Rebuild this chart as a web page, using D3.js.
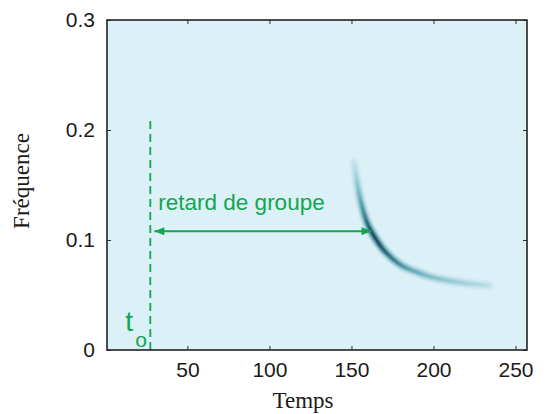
<!DOCTYPE html>
<html lang="fr">
<head>
<meta charset="utf-8">
<title>Retard de groupe</title>
<script src="https://cdn.jsdelivr.net/npm/d3@7"></script>
<style>
  body { margin: 0; background: #fff; }
  .tick text { font-family: "Liberation Sans", Arial, sans-serif; font-size: 21px; fill: #1a1a1a; }
  .title { font-family: "Liberation Serif", "Times New Roman", serif; font-size: 23px; fill: #1a1a1a; }
  .note { font-family: "Liberation Sans", Arial, sans-serif; fill: #12a650; }
</style>
</head>
<body>
<script>
// ridge of the spectrogram (time-frequency energy of the dispersed wave)
var ridgeFreq   = [0.171, 0.160, 0.1485, 0.136, 0.124, 0.115, 0.108, 0.101, 0.094, 0.088, 0.0788, 0.0745, 0.071, 0.067, 0.0636, 0.0606, 0.0585];
var ridgeTime   = [151.4, 152.5, 153.8, 155.5, 157.6, 159.7, 162.0, 164.8, 168.0, 171.5, 178.5, 183.5, 189.5, 197, 207, 219.6, 234.3];
var ridgeEnergy = [0.14, 0.26, 0.4, 0.55, 0.7, 0.85, 0.97, 1.0, 0.95, 0.85, 0.7, 0.6, 0.52, 0.45, 0.38, 0.3, 0.18];

var xTicks = [50, 100, 150, 200, 250];
var yTicks = [0, 0.1, 0.2, 0.3];

var t0 = 27.4;          // start time
var t0Top = 0.21;
var arrowFreq = 0.108;
var arrowEnd = 162.2;   // group delay arrival

var W = 545, H = 414;
var margin = {top: 20, right: 18, bottom: 64, left: 107};
var width = W - margin.left - margin.right,
    height = H - margin.top - margin.bottom;

var svg = d3.select("body").append("svg")
    .attr("width", W)
    .attr("height", H);

var x = d3.scaleLinear().domain([1, 257]).range([0, width]);
var y = d3.scaleLinear().domain([0, 0.3]).range([height, 0]);

var defs = svg.append("defs");
defs.append("filter").attr("id", "soft")
    .attr("x", "-20%").attr("y", "-20%").attr("width", "140%").attr("height", "140%")
  .append("feGaussianBlur").attr("stdDeviation", 0.8);
var mk = function(id, orient) {
  defs.append("marker").attr("id", id)
      .attr("viewBox", "0 0 10 8").attr("refX", 10).attr("refY", 4)
      .attr("markerWidth", 11).attr("markerHeight", 8)
      .attr("markerUnits", "userSpaceOnUse")
      .attr("orient", orient)
    .append("path").attr("d", "M0,0L10,4L0,8Z").attr("fill", "#12a650");
};
mk("head", "auto");
mk("tail", "auto-start-reverse");

var g = svg.append("g")
    .attr("transform", "translate(" + margin.left + "," + margin.top + ")");

// background of the image
g.append("rect")
    .attr("width", width).attr("height", height)
    .attr("fill", "#dcf0f7");

// spectrogram ridge
var color = d3.scaleLinear()
    .domain([0, 0.3, 0.65, 1])
    .range(["#dcf0f7", "#9dcfd9", "#2b8393", "#0b1d44"]);
var pts = ridgeTime.map(function(t, i) {
  return {t: t, f: ridgeFreq[i], e: ridgeEnergy[i], px: x(t), py: y(ridgeFreq[i])};
});
var p0 = pts[0], p1 = pts[pts.length - 1];
var vx = p1.px - p0.px, vy = p1.py - p0.py, vv = vx * vx + vy * vy;
pts.forEach(function(p) { p.off = ((p.px - p0.px) * vx + (p.py - p0.py) * vy) / vv; });

var layers = [
  {id: "gHalo", k: 0.35, w: 9},
  {id: "gMid",  k: 0.7,  w: 5},
  {id: "gCore", k: 1.0,  w: 2.2}
];
layers.forEach(function(L) {
  var lg = defs.append("linearGradient").attr("id", L.id)
      .attr("gradientUnits", "userSpaceOnUse")
      .attr("x1", p0.px).attr("y1", p0.py).attr("x2", p1.px).attr("y2", p1.py);
  lg.selectAll("stop").data(pts).enter().append("stop")
      .attr("offset", function(d) { return Math.max(0, Math.min(1, d.off)); })
      .attr("stop-color", function(d) { return color(d.e * L.k); });
});

var ridgeLine = d3.line()
    .x(function(d) { return d.px; })
    .y(function(d) { return d.py; })
    .curve(d3.curveCatmullRom);
var ridge = g.append("g").attr("filter", "url(#soft)");
ridge.selectAll("path").data(layers).enter().append("path")
    .attr("d", ridgeLine(pts))
    .attr("fill", "none")
    .attr("stroke", function(L) { return "url(#" + L.id + ")"; })
    .attr("stroke-width", function(L) { return L.w; })
    .attr("stroke-linecap", "round");

// t0 dashed line
g.append("line")
    .attr("x1", x(t0)).attr("x2", x(t0))
    .attr("y1", y(0)).attr("y2", y(t0Top))
    .attr("stroke", "#12a650").attr("stroke-width", 1.8)
    .attr("stroke-dasharray", "8,5");

// group delay arrow
g.append("line")
    .attr("x1", x(t0) + 4).attr("x2", x(arrowEnd))
    .attr("y1", y(arrowFreq)).attr("y2", y(arrowFreq))
    .attr("stroke", "#12a650").attr("stroke-width", 2)
    .attr("marker-start", "url(#tail)")
    .attr("marker-end", "url(#head)");

g.append("text").attr("class", "note")
    .attr("x", x(t0) + 8).attr("y", y(arrowFreq) - 21)
    .style("font-size", "22.5px")
    .text("retard de groupe");

g.append("text").attr("class", "note")
    .attr("x", x(t0) - 25).attr("y", y(0) - 19)
    .style("font-size", "28px")
    .text("t");
g.append("text").attr("class", "note")
    .attr("x", x(t0) - 15).attr("y", y(0) - 3)
    .style("font-size", "21px")
    .text("o");

// axes, ticks inward on all four sides
var axisStyle = function(sel) {
  sel.select(".domain").remove();
  sel.selectAll(".tick line").attr("stroke", "#333").attr("stroke-width", 1);
};
g.append("g")
    .attr("transform", "translate(0," + height + ")")
    .call(d3.axisBottom(x).tickValues(xTicks).tickSize(-4).tickPadding(12).tickFormat(d3.format("d")))
    .call(axisStyle);
g.append("g")
    .call(d3.axisTop(x).tickValues(xTicks).tickSize(-4).tickFormat(""))
    .call(axisStyle);
g.append("g")
    .call(d3.axisLeft(y).tickValues(yTicks).tickSize(-4).tickPadding(12)
      .tickFormat(function(d) { return d === 0 ? "0" : d3.format(".1f")(d); }))
    .call(axisStyle);
g.append("g")
    .attr("transform", "translate(" + width + ",0)")
    .call(d3.axisRight(y).tickValues(yTicks).tickSize(-4).tickFormat(""))
    .call(axisStyle);

g.append("rect")
    .attr("width", width).attr("height", height)
    .attr("fill", "none").attr("stroke", "#222").attr("stroke-width", 1.6);

// axis titles
svg.append("text").attr("class", "title")
    .attr("text-anchor", "middle")
    .attr("x", 303).attr("y", 408)
    .text("Temps");
svg.append("text").attr("class", "title")
    .attr("text-anchor", "middle")
    .attr("transform", "translate(29,181) rotate(-90)")
    .text("Fréquence");
</script>
</body>
</html>
